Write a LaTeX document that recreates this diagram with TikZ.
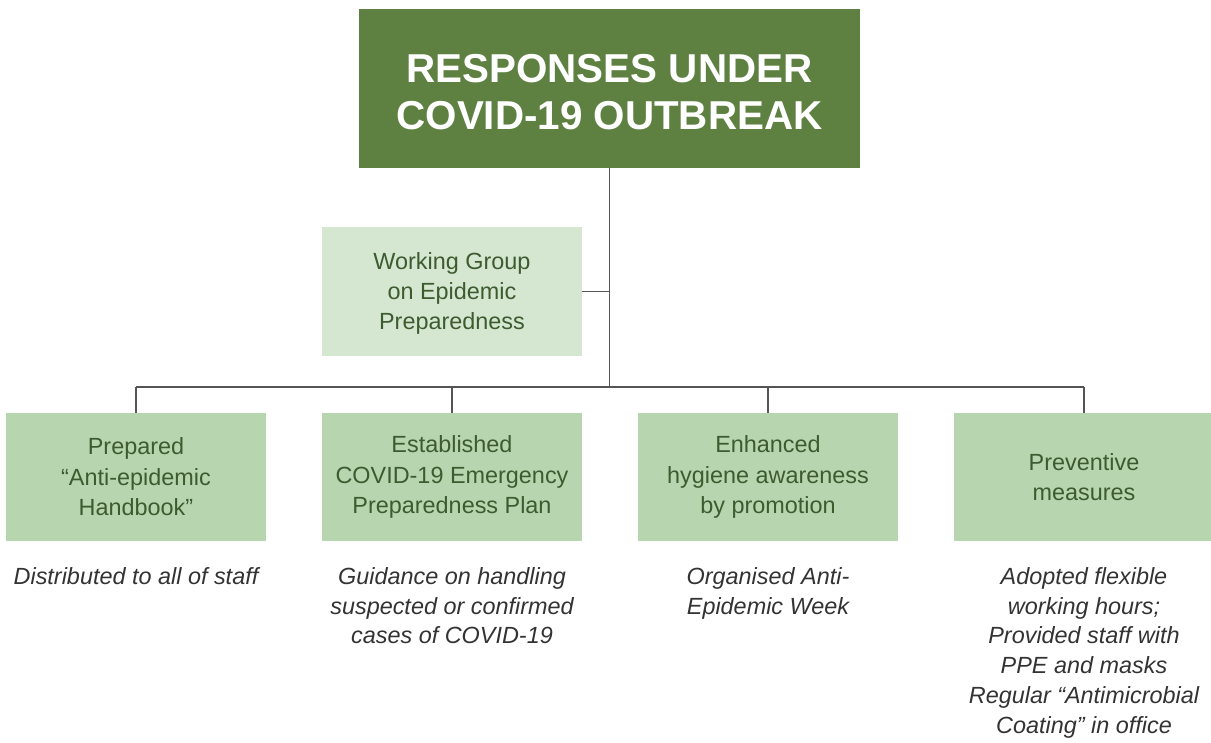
\documentclass[tikz,border=0pt]{standalone}
\usepackage{fontspec}
\setmainfont{Liberation Sans}
\definecolor{titlegreen}{HTML}{5E8142}
\definecolor{palegreen}{HTML}{D5E7D1}
\definecolor{boxgreen}{HTML}{B7D5AF}
\definecolor{textgreen}{HTML}{3E5B30}
\definecolor{captiongray}{HTML}{333333}
\definecolor{linegray}{HTML}{555555}
\begin{document}
\begin{tikzpicture}[x=1bp,y=-1bp,
  titlebox/.style={fill=titlegreen,text=white,inner sep=0pt,align=center,
    minimum width=501bp,minimum height=159bp,
    font=\fontsize{40.5}{47}\selectfont\bfseries},
  groupbox/.style={fill=palegreen,text=textgreen,inner sep=0pt,align=center,
    minimum width=260bp,minimum height=129bp,
    font=\fontsize{23.5}{30.5}\selectfont},
  actionbox/.style={fill=boxgreen,text=textgreen,inner sep=0pt,align=center,
    minimum width=260bp,minimum height=128bp,
    font=\fontsize{23.5}{30.5}\selectfont},
  caption/.style={text=captiongray,inner sep=0pt,align=center,anchor=north,
    font=\fontsize{23.5}{30}\selectfont\itshape},
  link/.style={draw=linegray,line width=1.5bp}]
\useasboundingbox (0,0) rectangle (1211,743);

% headline and working group
\node[titlebox] (top) at (609.5,88.5) {};
\node[text=white,align=center,inner sep=0pt,
  font=\fontsize{40.5}{47}\selectfont\bfseries] (toptext) at (609.5,92)
  {RESPONSES UNDER\\COVID-19 OUTBREAK};
\node[groupbox] (wg) at (452,291.5) {};
\node[text=textgreen,align=center,inner sep=0pt,
  font=\fontsize{23.5}{30.5}\selectfont] (wgtext) at (452,293.5)
  {Working Group\\on Epidemic\\Preparedness};

% the four actions
\node[actionbox] (b1) at (136,477) {Prepared\\``Anti-epidemic\\Handbook''};
\node[actionbox] (b2) at (452,477) {Established\\COVID-19 Emergency\\Preparedness Plan};
\node[actionbox] (b3) at (768,477) {Enhanced\\hygiene awareness\\by promotion};
\node[actionbox] (b4) at (1084,477) {Preventive\\measures};

% notes under each action
\node[caption] (c1) at (136,567) {Distributed to all of staff};
\node[caption] (c2) at (452,567) {Guidance on handling\\suspected or confirmed\\cases of COVID-19};
\node[caption] (c3) at (768,567) {Organised Anti-\\Epidemic Week};
\node[caption] (c4) at (1084,567) {Adopted flexible\\working hours;\\Provided staff with\\PPE and masks\\Regular ``Antimicrobial\\Coating'' in office};

% tree connectors
\coordinate (busy) at (0,387);
\draw[link] (top.south) -- (top.south |- busy);
\draw[link] (wg.east) -- (wg.east -| top.south);
\draw[link] (b1.north |- busy) -- (b4.north |- busy);
\foreach \b in {b1,b2,b3,b4}
  \draw[link] (\b.north) -- (\b.north |- busy);
\end{tikzpicture}
\end{document}
